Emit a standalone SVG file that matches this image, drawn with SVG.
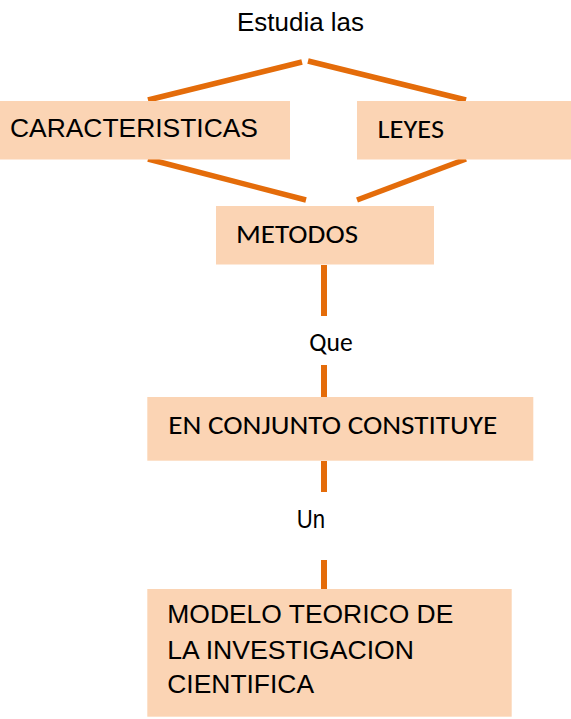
<svg xmlns="http://www.w3.org/2000/svg" width="571" height="719" viewBox="0 0 571 719">
<style>
.box{fill:#FBD4B4;stroke:none}
.c{stroke:#E46C0A;stroke-width:5.5;fill:none;stroke-linecap:butt}
.v{stroke:#E46C0A;stroke-width:6;fill:none}
.a{font-family:"Liberation Sans",Arial,sans-serif;font-size:26px;fill:#000}
.k{font-family:Carlito,Lato,"Liberation Sans",sans-serif;font-size:27px;fill:#000}
</style>
<rect width="571" height="719" fill="#ffffff"/>
<g id="connectors">
<line class="c" x1="148" y1="100" x2="302" y2="62"/>
<line class="c" x1="308" y1="61" x2="466" y2="100"/>
<line class="c" x1="148" y1="159" x2="306" y2="200"/>
<line class="c" x1="357" y1="200" x2="466" y2="159"/>
<line class="v" x1="324" y1="265" x2="324" y2="316"/>
<line class="v" x1="324" y1="365" x2="324" y2="397"/>
<line class="v" x1="324" y1="461" x2="324" y2="492"/>
<line class="v" x1="324" y1="560" x2="324" y2="589"/>
</g>
<g id="label-estudia"><text class="a" x="237" y="31" textLength="127" lengthAdjust="spacingAndGlyphs">Estudia las</text></g>
<g id="caracteristicas">
<rect class="box" x="0" y="101" width="290" height="58.5"/>
<text class="a" x="10" y="137" textLength="248" lengthAdjust="spacingAndGlyphs">CARACTERISTICAS</text>
</g>
<g id="leyes">
<rect class="box" x="357" y="101" width="214" height="58.5"/>
<text class="k" x="377.5" y="137.5" textLength="66.5" lengthAdjust="spacingAndGlyphs">LEYES</text>
</g>
<g id="metodos">
<rect class="box" x="216" y="206" width="218" height="58.5"/>
<text class="k" x="236" y="243.3" textLength="122" lengthAdjust="spacingAndGlyphs">METODOS</text>
</g>
<g id="label-que"><text class="k" x="309.3" y="351" font-size="23" textLength="43.4" lengthAdjust="spacingAndGlyphs">Que</text></g>
<g id="conjunto">
<rect class="box" x="147.3" y="397" width="386" height="63.7"/>
<text class="k" x="168.3" y="434.3" textLength="329" lengthAdjust="spacingAndGlyphs">EN CONJUNTO CONSTITUYE</text>
</g>
<g id="label-un"><text class="a" x="296.7" y="528.3" font-size="22" textLength="28.3" lengthAdjust="spacingAndGlyphs">Un</text></g>
<g id="modelo">
<rect class="box" x="147.3" y="589" width="364.4" height="127.7"/>
<text class="a" x="167.3" y="622.7" textLength="286" lengthAdjust="spacingAndGlyphs">MODELO TEORICO DE</text>
<text class="a" x="167.3" y="659" textLength="246.7" lengthAdjust="spacingAndGlyphs">LA INVESTIGACION</text>
<text class="a" x="167.3" y="693.3" textLength="146.7" lengthAdjust="spacingAndGlyphs">CIENTIFICA</text>
</g>
</svg>
